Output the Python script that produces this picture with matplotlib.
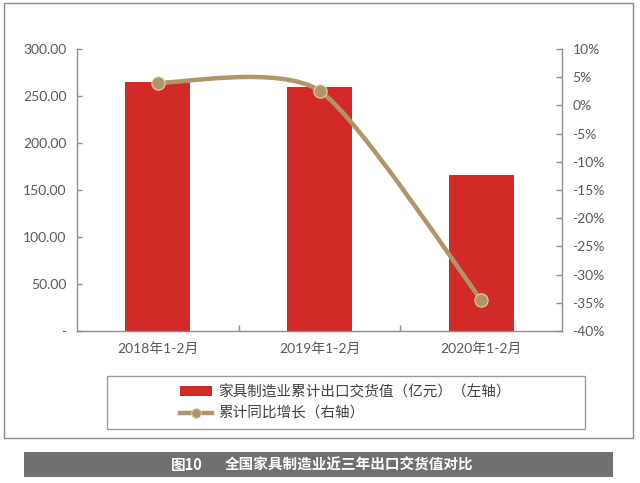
import matplotlib
matplotlib.use("Agg")
import matplotlib.pyplot as plt
from matplotlib.patches import Rectangle, Patch
from matplotlib.lines import Line2D
from matplotlib.path import Path
from matplotlib.patches import PathPatch
from matplotlib.ticker import FixedLocator, FuncFormatter

categories = ["2018年1-2月", "2019年1-2月", "2020年1-2月"]
export_value = [264.5, 259.3, 166.0]      # 亿元, left axis
yoy_growth = [4.0, 2.6, -34.5]            # %, right axis
left_ticks = [0, 50, 100, 150, 200, 250, 300]
right_ticks = [10, 5, 0, -5, -10, -15, -20, -25, -30, -35, -40]
legend_labels = ["家具制造业累计出口交货值（亿元）（左轴）", "累计同比增长（右轴）"]
title_num = "图10"
title_text = "全国家具制造业近三年出口交货值对比"

W, H = 640, 483
BAR = "#D22A26"
LINE = "#B09568"
EDGE = "#8C8C8C"
TXT = "#595959"
LAT = ["Lato", "Noto Sans CJK SC", "DejaVu Sans"]
CJK = ["Noto Sans CJK SC", "DejaVu Sans"]
plt.rcParams["font.family"] = LAT

fig = plt.figure(figsize=(W / 100, H / 100), dpi=100)

def fx(px):
    return px / W

def fy(py):
    return 1 - py / H

# outer border
fig.add_artist(Rectangle((fx(4), fy(438)), fx(633) - fx(4), fy(3) - fy(438),
                         transform=fig.transFigure, fill=False, edgecolor="#8A8A8A", lw=1.0))

ax = fig.add_axes([fx(77), fy(331), fx(562) - fx(77), fy(49) - fy(331)])
x = list(range(len(categories)))
ax.bar(x, export_value, width=0.4, color=BAR, zorder=2)
ax.set_xlim(-0.5, 2.5)
ax.set_ylim(0, 300)
ax.yaxis.set_major_locator(FixedLocator(left_ticks))
ax.yaxis.set_major_formatter(FuncFormatter(lambda v, p: "-" if v == 0 else f"{v:.2f}"))
ax.set_xticks(x)
ax.set_xticklabels(categories, family=LAT)
ax.set_xticks([0.5, 1.5], minor=True)
ax.tick_params(axis="x", which="major", length=0, pad=8, labelsize=10, labelcolor=TXT)
ax.tick_params(axis="x", which="minor", direction="in", length=4, color=EDGE, width=1)
ax.tick_params(axis="y", direction="in", length=3.5, color=EDGE, width=1, pad=7.5,
               labelsize=10, labelcolor=TXT)
for s in ["top", "right"]:
    ax.spines[s].set_visible(False)
for s in ["left", "bottom"]:
    ax.spines[s].set_color(EDGE)
    ax.spines[s].set_linewidth(1)

ax2 = ax.twinx()
ax2.set_ylim(-40, 10)
ax2.yaxis.set_major_locator(FixedLocator(right_ticks))
ax2.yaxis.set_major_formatter(FuncFormatter(lambda v, p: f"{int(v)}%"))
ax2.tick_params(axis="y", direction="in", length=4, color=EDGE, width=1, pad=7.5,
                labelsize=10, labelcolor=TXT)
for s in ["top", "left", "bottom"]:
    ax2.spines[s].set_visible(False)
ax2.spines["right"].set_color(EDGE)
ax2.spines["right"].set_linewidth(1)

# smoothed line (Bezier through the data points)
k = 0.12
pts = list(zip(x, yoy_growth))
verts = [pts[0]]
codes = [Path.MOVETO]
n = len(pts)
for i in range(n - 1):
    p0 = pts[i - 1] if i > 0 else pts[i]
    p1 = pts[i]
    p2 = pts[i + 1]
    p3 = pts[i + 2] if i + 2 < n else pts[i + 1]
    c1 = (p1[0] + (p2[0] - p0[0]) * k, p1[1] + (p2[1] - p0[1]) * k)
    c2 = (p2[0] - (p3[0] - p1[0]) * k, p2[1] - (p3[1] - p1[1]) * k)
    verts += [c1, c2, p2]
    codes += [Path.CURVE4] * 3
ax2.add_patch(PathPatch(Path(verts, codes), fill=False, edgecolor=LINE, lw=3.2,
                        capstyle="round", zorder=3))
ax2.plot(x, yoy_growth, linestyle="none", marker="o", markersize=9.5,
         markerfacecolor=LINE, markeredgecolor="#E6D3AE", markeredgewidth=0.8, zorder=4)

# legend box
fig.add_artist(Rectangle((fx(107), fy(429)), fx(585) - fx(107), fy(376) - fy(429),
                         transform=fig.transFigure, fill=False, edgecolor="#9A9A9A", lw=1.0))
handles = [Patch(facecolor=BAR, edgecolor="none"),
           Line2D([], [], color=LINE, lw=3.2, marker="o", markersize=7,
                  markerfacecolor=LINE, markeredgecolor="#E6D3AE", markeredgewidth=0.6)]
leg = fig.legend(handles, legend_labels, loc="upper left",
                 bbox_to_anchor=(fx(180), fy(385)), frameon=False, borderpad=0,
                 borderaxespad=0, handlelength=2.2, handleheight=0.6, handletextpad=0.4,
                 labelspacing=0.5, numpoints=1, prop={"family": CJK, "size": 10.5})
for t in leg.get_texts():
    t.set_color("#404040")

# caption bar
fig.add_artist(Rectangle((fx(24), fy(477)), fx(613) - fx(24), fy(452) - fy(477),
                         transform=fig.transFigure, facecolor="#707070", edgecolor="none"))
fig.text(fx(171), fy(465), title_num, color="white", fontsize=10.5, family=CJK,
         weight="bold", ha="left", va="center")
fig.text(fx(225), fy(465), title_text, color="white", fontsize=10.5, family=CJK,
         weight="bold", ha="left", va="center")

fig.savefig("out.png", dpi=100)
